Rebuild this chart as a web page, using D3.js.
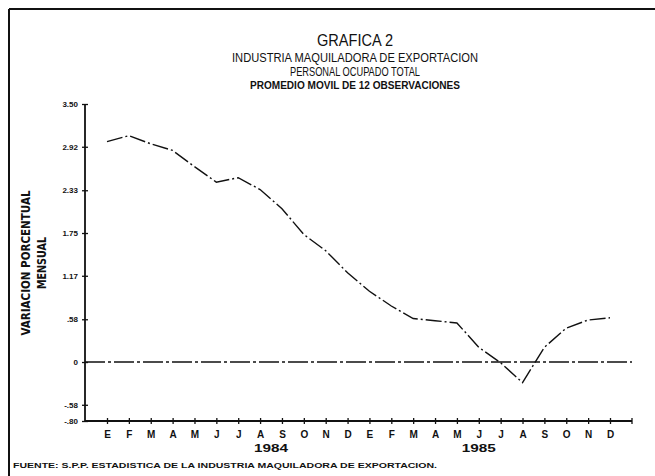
<!DOCTYPE html>
<html lang="es">
<head>
<meta charset="utf-8">
<script src="https://d3js.org/d3.v7.min.js"></script>
<style>
  body { margin: 0; background: #fff; }
  svg { display: block; }
  text { font-family: "Liberation Sans", Arial, sans-serif; fill: #111; }
</style>
</head>
<body>
<div id="chart"></div>
<script>
// months, 1984 then 1985
var months = ["E","F","M","A","M","J","J","A","S","O","N","D",
              "E","F","M","A","M","J","J","A","S","O","N","D"];
// variacion porcentual mensual (promedio movil)
var values = [2.99, 3.07, 2.96, 2.87, 2.65, 2.44, 2.50, 2.34, 2.08, 1.73, 1.51, 1.21,
              0.96, 0.76, 0.59, 0.56, 0.53, 0.20, -0.01, -0.28, 0.20, 0.46, 0.57, 0.60];
var yTicks = [3.5, 2.92, 2.33, 1.75, 1.17, 0.58, 0, -0.58, -0.8];
var yTickLabels = ["3.50", "2.92", "2.33", "1.75", "1.17", ".58", "0", "-.58", "-.80"];
var years = ["1984", "1985"];
var yearPos = [7.5, 17];

var W = 655, H = 476;
var svg = d3.select("#chart").append("svg")
    .attr("width", W).attr("height", H);

// frame (top and left edges of the page)
svg.append("line").attr("x1", 9).attr("x2", W).attr("y1", 9).attr("y2", 9)
    .attr("stroke", "#111").attr("stroke-width", 2);
svg.append("line").attr("x1", 9).attr("x2", 9).attr("y1", 9).attr("y2", H)
    .attr("stroke", "#111").attr("stroke-width", 2);

// titles
var titles = [
  {t: "GRAFICA 2", y: 46, s: 17, w: 76, b: "normal"},
  {t: "INDUSTRIA MAQUILADORA DE EXPORTACION", y: 62, s: 13, w: 246, b: "normal"},
  {t: "PERSONAL OCUPADO TOTAL", y: 76, s: 13, w: 130, b: "normal"},
  {t: "PROMEDIO MOVIL DE 12 OBSERVACIONES", y: 89, s: 10, w: 210, b: "bold"}
];
svg.selectAll("text.title").data(titles).enter().append("text")
    .attr("class", "title")
    .attr("x", 355).attr("y", function(d) { return d.y; })
    .attr("text-anchor", "middle")
    .style("font-size", function(d) { return d.s + "px"; })
    .style("font-weight", function(d) { return d.b; })
    .attr("textLength", function(d) { return d.w; })
    .attr("lengthAdjust", "spacingAndGlyphs")
    .text(function(d) { return d.t; });

// scales
var x = d3.scalePoint().domain(d3.range(months.length)).range([107, 610]);
var y = d3.scaleLinear().domain([-0.8, 3.5]).range([421, 104]);
var x0 = 85, x1 = 632;

// y axis
var yAxis = svg.append("g").attr("transform", "translate(" + x0 + ",0)")
    .call(d3.axisLeft(y).tickValues(yTicks).tickSize(3)
        .tickFormat(function(d, i) { return yTickLabels[i]; }));
yAxis.select(".domain").remove();
yAxis.selectAll(".tick line").attr("x1", -3).attr("x2", 3)
    .attr("stroke", "#111").attr("stroke-width", 1.3);
yAxis.selectAll(".tick text").attr("x", -7)
    .style("font-size", "8px").style("font-weight", "bold")
    .style("font-family", "'Liberation Sans', Arial, sans-serif");
svg.append("line").attr("x1", x0).attr("x2", x0)
    .attr("y1", y(3.5)).attr("y2", y(-0.8))
    .attr("stroke", "#111").attr("stroke-width", 1.8);

// x axis
var xAxis = svg.append("g").attr("transform", "translate(0," + y(-0.8) + ")")
    .call(d3.axisBottom(x).tickSize(3)
        .tickFormat(function(d) { return months[d]; }));
xAxis.select(".domain").remove();
xAxis.selectAll(".tick line").attr("y1", -3).attr("y2", 3)
    .attr("stroke", "#111").attr("stroke-width", 1.3);
xAxis.selectAll(".tick text").attr("y", 10)
    .style("font-size", "10px").style("font-weight", "bold")
    .style("font-family", "'Liberation Sans', Arial, sans-serif");
svg.append("line").attr("x1", x0).attr("x2", x1)
    .attr("y1", y(-0.8)).attr("y2", y(-0.8))
    .attr("stroke", "#111").attr("stroke-width", 1.8);
svg.append("line").attr("x1", x1).attr("x2", x1)
    .attr("y1", y(-0.8) - 3).attr("y2", y(-0.8) + 3)
    .attr("stroke", "#111").attr("stroke-width", 1.3);

// years
var step = x.step();
svg.selectAll("text.year").data(years).enter().append("text")
    .attr("class", "year")
    .attr("x", function(d, i) { return x(0) + yearPos[i] * step; })
    .attr("y", 452)
    .attr("text-anchor", "middle")
    .style("font-size", "10px").style("font-weight", "bold")
    .attr("textLength", 34).attr("lengthAdjust", "spacingAndGlyphs")
    .text(function(d) { return d; });

// zero line
svg.append("line").attr("x1", x0).attr("x2", x1)
    .attr("y1", y(0)).attr("y2", y(0))
    .attr("stroke", "#111").attr("stroke-width", 1.6)
    .attr("stroke-dasharray", "20,3,3,3");

// series
var line = d3.line()
    .x(function(d, i) { return x(i); })
    .y(function(d) { return y(d); });
svg.append("path").datum(values)
    .attr("d", line)
    .attr("fill", "none")
    .attr("stroke", "#111")
    .attr("stroke-width", 1.4)
    .attr("stroke-dasharray", "16,3,2,3");

// y axis title
var ylab = svg.append("g").attr("transform", "translate(0,263)");
ylab.append("text").attr("transform", "translate(30,0) rotate(-90)")
    .attr("text-anchor", "middle")
    .style("font-family", "'Liberation Sans Narrow', 'DejaVu Sans Condensed', sans-serif")
    .style("font-size", "12px").style("font-weight", "bold")
    .attr("textLength", 145).attr("lengthAdjust", "spacingAndGlyphs")
    .text("VARIACION PORCENTUAL");
ylab.append("text").attr("transform", "translate(46,0) rotate(-90)")
    .attr("text-anchor", "middle")
    .style("font-family", "'Liberation Sans Narrow', 'DejaVu Sans Condensed', sans-serif")
    .style("font-size", "12px").style("font-weight", "bold")
    .attr("textLength", 52).attr("lengthAdjust", "spacingAndGlyphs")
    .text("MENSUAL");

// source note
svg.append("text").attr("x", 13).attr("y", 468)
    .style("font-size", "8px").style("font-weight", "bold")
    .attr("textLength", 424).attr("lengthAdjust", "spacingAndGlyphs")
    .text("FUENTE: S.P.P. ESTADISTICA DE LA INDUSTRIA MAQUILADORA DE EXPORTACION.");
</script>
</body>
</html>
